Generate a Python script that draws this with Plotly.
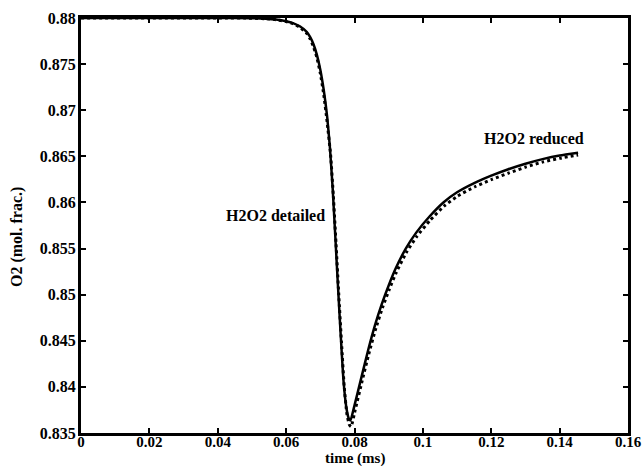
import plotly.graph_objects as go

# O2 mole fraction history, reduced mechanism (solid)
t_reduced = [0.0, 0.02, 0.04, 0.050, 0.054, 0.057, 0.060, 0.062, 0.064, 0.066,
             0.067, 0.068, 0.069, 0.070, 0.071, 0.072, 0.0728, 0.0736, 0.0744, 0.0752,
             0.0760, 0.0768, 0.0776, 0.0783, 0.0788, 0.0800, 0.0820, 0.0840,
             0.0860, 0.0880, 0.0900, 0.0920, 0.0950, 0.0980, 0.1020, 0.1060,
             0.1100, 0.1150, 0.1200, 0.1250, 0.1300, 0.1350, 0.1400, 0.1454]
o2_reduced = [0.88, 0.88, 0.88, 0.87998, 0.87993, 0.87984, 0.87965, 0.87945, 0.87910, 0.87850,
              0.87795, 0.87715, 0.87600, 0.87440, 0.87220, 0.86930, 0.86600, 0.86160, 0.85620, 0.85070,
              0.84540, 0.84060, 0.83780, 0.83660, 0.83635, 0.83800, 0.84100, 0.84400,
              0.84670, 0.84900, 0.85100, 0.85280, 0.85500, 0.85670, 0.85850, 0.86000,
              0.86110, 0.86210, 0.86290, 0.86360, 0.86420, 0.86470, 0.86510, 0.86540]

# O2 mole fraction history, detailed mechanism (dotted)
t_detailed = [0.0, 0.02, 0.04, 0.050, 0.054, 0.057, 0.060, 0.062, 0.064, 0.066,
              0.067, 0.068, 0.069, 0.070, 0.071, 0.072, 0.0730, 0.0738, 0.0746, 0.0754,
              0.0762, 0.0770, 0.0778, 0.0785, 0.0790, 0.0802, 0.0822, 0.0842,
              0.0862, 0.0882, 0.0902, 0.0922, 0.0952, 0.0982, 0.1022, 0.1062,
              0.1102, 0.1152, 0.1202, 0.1252, 0.1302, 0.1352, 0.1402, 0.1454]
o2_detailed = [0.88, 0.88, 0.88, 0.87998, 0.87992, 0.87982, 0.87961, 0.87939, 0.87900, 0.87835,
               0.87775, 0.87690, 0.87570, 0.87400, 0.87170, 0.86870, 0.86520, 0.86080, 0.85550, 0.85000,
               0.84480, 0.84000, 0.83700, 0.83590, 0.83570, 0.83750, 0.84060, 0.84360,
               0.84630, 0.84860, 0.85060, 0.85240, 0.85460, 0.85630, 0.85810, 0.85960,
               0.86070, 0.86170, 0.86250, 0.86320, 0.86385, 0.86440, 0.86480, 0.86515]

x_ticks = [0, 0.02, 0.04, 0.06, 0.08, 0.1, 0.12, 0.14, 0.16]
x_tick_text = ["0", "0.02", "0.04", "0.06", "0.08", "0.1", "0.12", "0.14", "0.16"]
y_ticks = [0.835, 0.84, 0.845, 0.85, 0.855, 0.86, 0.865, 0.87, 0.875, 0.88]
y_tick_text = ["0.835", "0.84", "0.845", "0.85", "0.855", "0.86", "0.865", "0.87", "0.875", "0.88"]

FONT = "Liberation Serif"
W, H = 644, 466
ML, MR, MT, MB = 81, 16, 18, 33
PW, PH = W - ML - MR, H - MT - MB

fig = go.Figure()
fig.add_trace(go.Scatter(x=t_detailed, y=o2_detailed, mode="lines",
                         line=dict(color="black", width=3, dash="dot", shape="spline", smoothing=0.5),
                         showlegend=False))
fig.add_trace(go.Scatter(x=t_reduced, y=o2_reduced, mode="lines",
                         line=dict(color="black", width=2.5, shape="spline", smoothing=0.5),
                         showlegend=False))

axis_common = dict(showline=True, linecolor="black", linewidth=3, mirror="ticks",
                   ticks="inside", ticklen=5, tickwidth=2, tickcolor="black",
                   showgrid=False, zeroline=False)

fig.update_xaxes(range=[0, 0.16], tickvals=x_ticks, ticktext=x_tick_text,
                 ticklabelstandoff=-7,
                 tickfont=dict(family=FONT, size=15, color="black", weight="bold"),
                 **axis_common)
fig.update_yaxes(range=[0.835, 0.88], tickvals=y_ticks, ticktext=y_tick_text,
                 ticklabelstandoff=-1,
                 tickfont=dict(family=FONT, size=16, color="black", weight="bold"),
                 **axis_common)

title_font = dict(family=FONT, size=16, color="black", weight="bold")

# axis titles, positioned in paper units from pixel offsets of the plot box
fig.add_annotation(text="time (ms)", x=0.5, xref="paper",
                   y=(H - MB - 458.5) / PH, yref="paper", yanchor="middle",
                   borderpad=0, showarrow=False,
                   font=dict(family=FONT, size=15, color="black", weight="bold"))
fig.add_annotation(text="O2 (mol. frac.)", x=(17 - ML) / PW, xref="paper",
                   y=(H - MB - 237) / PH, yref="paper", textangle=-90,
                   xanchor="center", yanchor="middle",
                   showarrow=False, font=title_font)

# curve labels
fig.add_annotation(text="H2O2 detailed", x=0.0570, y=0.85856, showarrow=False, font=title_font)
fig.add_annotation(text="H2O2 reduced", x=0.1326, y=0.86692, showarrow=False, font=title_font)

fig.update_layout(
    width=W, height=H,
    margin=dict(l=ML, r=MR, t=MT, b=MB, autoexpand=False),
    paper_bgcolor="white", plot_bgcolor="white",
)

fig.write_html("out.html")
